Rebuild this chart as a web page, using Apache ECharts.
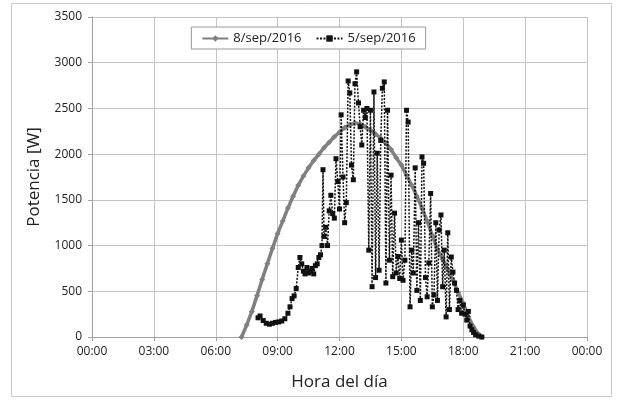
<!DOCTYPE html>
<html>
<head>
<meta charset="utf-8">
<script src="https://cdn.jsdelivr.net/npm/echarts@6/dist/echarts.min.js"></script>
<style>
  html, body { margin: 0; padding: 0; background: #fff; }
  #chart { width: 617px; height: 400px; }
</style>
</head>
<body>
<div id="chart"></div>
<script>
// hora del día (h) y potencia (W), 8/sep/2016
const horas8 = [7.25, 7.5, 7.75, 8.0, 8.25, 8.5, 8.75, 9.0, 9.25, 9.5, 9.75, 10.0, 10.25, 10.5, 10.75, 11.0, 11.25, 11.5, 11.75, 12.0, 12.25, 12.5, 12.75, 13.0, 13.25, 13.5, 13.75, 14.0, 14.25, 14.5, 14.75, 15.0, 15.25, 15.5, 15.75, 16.0, 16.25, 16.5, 16.75, 17.0, 17.25, 17.5, 17.75, 18.0, 18.25, 18.5, 18.75, 18.9]
const potencia8 = [0, 130, 280, 450, 630, 800, 970, 1130, 1270, 1410, 1540, 1660, 1760, 1850, 1930, 2000, 2070, 2130, 2190, 2240, 2290, 2320, 2340, 2330, 2300, 2260, 2220, 2175, 2120, 2050, 1960, 1880, 1770, 1660, 1540, 1410, 1270, 1110, 960, 850, 740, 620, 490, 370, 220, 110, 30, 0]

// 5/sep/2016
const horas5 = [8.05, 8.15, 8.3, 8.45, 8.6, 8.75, 8.9, 9.05, 9.2, 9.35, 9.5, 9.6, 9.7, 9.8, 9.9, 10.0, 10.08, 10.17, 10.25, 10.33, 10.42, 10.5, 10.58, 10.67, 10.75, 10.83, 10.92, 11.0, 11.08, 11.15, 11.2, 11.25, 11.33, 11.42, 11.5, 11.58, 11.67, 11.75, 11.83, 11.92, 12.0, 12.08, 12.17, 12.25, 12.33, 12.42, 12.5, 12.58, 12.67, 12.75, 12.83, 12.92, 13.0, 13.08, 13.17, 13.25, 13.33, 13.42, 13.5, 13.58, 13.67, 13.75, 13.83, 13.92, 14.0, 14.08, 14.17, 14.25, 14.33, 14.42, 14.5, 14.58, 14.67, 14.75, 14.83, 14.92, 15.0, 15.08, 15.17, 15.25, 15.33, 15.42, 15.5, 15.58, 15.67, 15.75, 15.83, 15.92, 16.0, 16.08, 16.17, 16.25, 16.33, 16.42, 16.5, 16.58, 16.67, 16.75, 16.83, 16.92, 17.0, 17.08, 17.17, 17.25, 17.33, 17.42, 17.5, 17.58, 17.67, 17.75, 17.83, 17.92, 18.0, 18.08, 18.17, 18.25, 18.33, 18.42, 18.5, 18.6, 18.75, 18.9]
const potencia5 = [210, 230, 180, 150, 140, 150, 160, 165, 175, 200, 260, 330, 420, 450, 530, 760, 870, 800, 720, 690, 760, 700, 720, 750, 690, 780, 800, 870, 900, 1000, 1830, 1100, 1200, 1000, 1380, 1550, 1350, 1300, 1950, 1700, 1400, 2430, 1750, 1250, 1470, 2800, 2670, 1880, 1720, 2770, 2900, 2560, 2300, 2100, 2480, 2400, 2500, 950, 2480, 550, 2680, 650, 2010, 730, 2150, 2720, 2790, 590, 2480, 840, 1770, 660, 1355, 700, 880, 640, 1060, 620, 840, 2480, 2350, 330, 950, 700, 1850, 510, 1250, 400, 1970, 1900, 650, 440, 810, 1570, 330, 460, 1250, 400, 1170, 1335, 550, 950, 220, 1140, 300, 875, 710, 590, 510, 300, 400, 260, 350, 250, 185, 280, 120, 80, 50, 25, 10, 0]

const ticksY = [0, 500, 1000, 1500, 2000, 2500, 3000, 3500]

const fuente = '"Open Sans", "Noto Sans", sans-serif'
const gris = '#808080'
const texto = '#222'

const chart = echarts.init(document.getElementById('chart'))

const fmtHora = v => {
  const h = Math.round(v) % 24
  return (h < 10 ? '0' : '') + h + ':00'
}

chart.setOption({
  animation: false,
  backgroundColor: '#fff',
  textStyle: { fontFamily: fuente },
  graphic: [{
    type: 'rect',
    shape: { x: 11.5, y: 3.5, width: 600, height: 393 },
    style: { fill: 'none', stroke: '#c8c8c8', lineWidth: 1 },
    silent: true
  }],
  grid: { left: 92, right: 30, top: 17, bottom: 63 },
  legend: {
    top: 27,
    left: 'center',
    backgroundColor: '#fff',
    borderColor: '#999',
    borderWidth: 1,
    padding: [5, 10, 4, 10],
    itemWidth: 26,
    itemHeight: 8,
    itemGap: 14,
    textStyle: { fontSize: 13, color: texto, fontFamily: fuente },
    data: ['8/sep/2016', '5/sep/2016']
  },
  xAxis: {
    type: 'value',
    min: 0,
    max: 24,
    interval: 3,
    name: 'Hora del día',
    nameLocation: 'middle',
    nameGap: 37,
    nameTextStyle: { fontSize: 17, color: texto, fontFamily: fuente },
    axisLine: { show: true, lineStyle: { color: '#a0a0a0' } },
    axisTick: { show: true, inside: false, length: 4, lineStyle: { color: '#a0a0a0' } },
    axisLabel: { formatter: fmtHora, fontSize: 12, color: texto, margin: 9 },
    splitLine: { show: true, lineStyle: { color: '#c4c4c4', width: 1 } }
  },
  yAxis: {
    type: 'value',
    min: 0,
    max: 3500,
    interval: 500,
    name: 'Potencia [W]',
    nameLocation: 'middle',
    nameGap: 49,
    nameTextStyle: { fontSize: 17, color: texto, fontFamily: fuente },
    axisLine: { show: true, lineStyle: { color: '#a0a0a0' } },
    axisTick: { show: true, length: 4, lineStyle: { color: '#a0a0a0' } },
    axisLabel: {
      fontSize: 12,
      color: texto,
      margin: 10,
      formatter: v => ticksY.includes(v) ? String(v) : ''
    },
    splitLine: { show: true, lineStyle: { color: '#c4c4c4', width: 1 } }
  },
  series: [
    {
      name: '8/sep/2016',
      type: 'line',
      data: horas8.map((h, i) => [h, potencia8[i]]),
      symbol: 'diamond',
      symbolSize: 6,
      showAllSymbol: true,
      lineStyle: { color: gris, width: 3.5 },
      itemStyle: { color: gris, borderWidth: 0 },
      z: 2
    },
    {
      name: '5/sep/2016',
      type: 'line',
      data: horas5.map((h, i) => [h, potencia5[i]]),
      symbol: 'rect',
      symbolSize: 5,
      showAllSymbol: true,
      lineStyle: { color: '#111', width: 1.5, type: [2, 1.5] },
      itemStyle: { color: '#111', borderWidth: 0 },
      z: 3
    }
  ]
})

window.addEventListener('resize', () => chart.resize())
</script>
</body>
</html>
